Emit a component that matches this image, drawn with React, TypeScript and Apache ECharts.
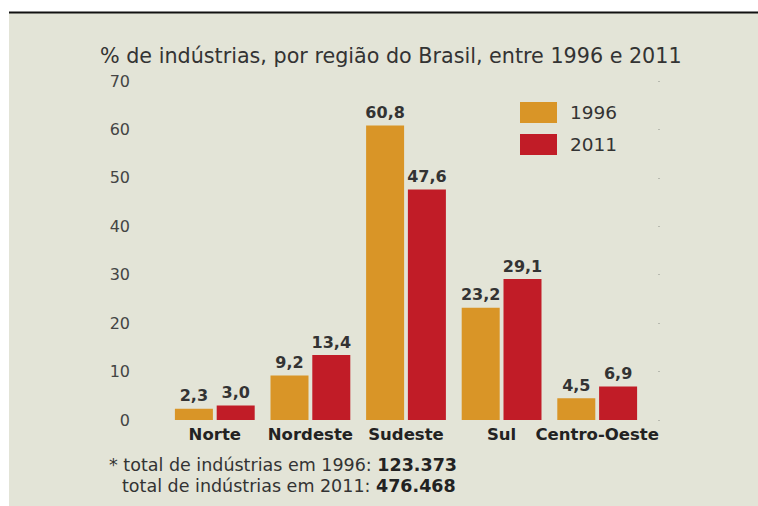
import React, { useEffect, useRef } from "react";
import * as echarts from "echarts";

const categories = ["Norte", "Nordeste", "Sudeste", "Sul", "Centro-Oeste"];
const values1996 = [2.3, 9.2, 60.8, 23.2, 4.5];
const values2011 = [3.0, 13.4, 47.6, 29.1, 6.9];
const seriesNames = ["1996", "2011"];
const titleText = "% de indústrias, por região do Brasil, entre 1996 e 2011";
const total1996 = "123.373";
const total2011 = "476.468";

const FONT = "'DejaVu Sans', sans-serif";
const ORANGE = "#d99527";
const RED = "#c11c27";
const BG = "#e3e4d7";

export default function App() {
  const ref = useRef<HTMLDivElement>(null);
  useEffect(() => {
    if (!ref.current) return;
    const chart = echarts.init(ref.current, undefined, { renderer: "svg" });
    const fmt = (p: any) => Number(p.value).toFixed(1).replace(".", ",");
    const rich = { b: { fontWeight: "bold", fontSize: 17.5, fontFamily: FONT, fill: "#222" } };
    chart.setOption({
      animation: false,
      backgroundColor: "#ffffff",
      graphic: [
        { type: "rect", z: -10, shape: { x: 9, y: 13, width: 749, height: 493 }, style: { fill: BG } },
        { type: "line", shape: { x1: 9, y1: 12.5, x2: 758, y2: 12.5 }, style: { stroke: "#111", lineWidth: 2 } },
        {
          type: "text", left: 100, top: 45,
          style: { text: titleText, font: `20.7px ${FONT}`, fill: "#333" },
        },
        {
          type: "text", left: 109, top: 456,
          style: { text: `* total de indústrias em 1996: {b|${total1996}}`, font: `17.5px ${FONT}`, fill: "#333", rich },
        },
        {
          type: "text", left: 122, top: 477,
          style: { text: `total de indústrias em 2011: {b|${total2011}}`, font: `17.5px ${FONT}`, fill: "#333", rich },
        },
      ],
      legend: {
        orient: "vertical", left: 520, top: 102, padding: 0, itemWidth: 37, itemHeight: 21, itemGap: 11,
        icon: "rect",
        textStyle: { fontFamily: FONT, fontSize: 18.5, color: "#333", padding: [0, 0, 0, 8] },
        data: seriesNames,
      },
      grid: { left: 167, right: 113, top: 81, bottom: 86 },
      xAxis: {
        type: "category", data: categories,
        axisLine: { show: false }, axisTick: { show: false },
        axisLabel: { interval: 0, fontFamily: FONT, fontSize: 16.5, fontWeight: "bold", color: "#222", margin: 6 },
      },
      yAxis: [
        {
          type: "value", min: 0, max: 70, interval: 10,
          splitLine: { show: false },
          axisLabel: { fontFamily: FONT, fontSize: 16, color: "#444", margin: 37 },
        },
        {
          type: "value", min: 0, max: 70, interval: 10, position: "right", offset: 13,
          splitLine: { show: false }, axisLine: { show: false }, axisLabel: { show: false },
          axisTick: { show: true, length: 2, lineStyle: { color: "#b8bab0", width: 1 } },
        },
      ],
      series: [
        {
          name: seriesNames[0], type: "bar", data: values1996, barWidth: 38, barGap: "10%",
          itemStyle: { color: ORANGE },
          label: { show: true, position: "top", distance: 5, formatter: fmt, fontFamily: FONT, fontSize: 16, fontWeight: "bold", color: "#333" },
        },
        {
          name: seriesNames[1], type: "bar", data: values2011, barWidth: 38, barGap: "10%",
          itemStyle: { color: RED },
          label: { show: true, position: "top", distance: 5, formatter: fmt, fontFamily: FONT, fontSize: 16, fontWeight: "bold", color: "#333" },
        },
      ],
    });
    return () => chart.dispose();
  }, []);
  return <div ref={ref} style={{ position: "fixed", left: 0, top: 0, width: 758, height: 506 }} />;
}
